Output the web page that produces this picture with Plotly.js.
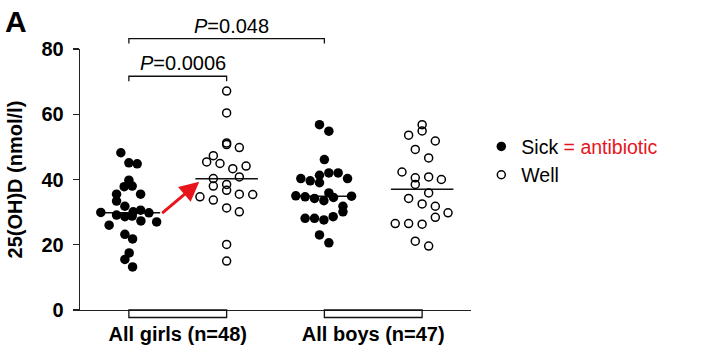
<!DOCTYPE html>
<html>
<head>
<meta charset="utf-8">
<script src="https://cdn.plot.ly/plotly-3.0.1.min.js"></script>
<style>html,body{margin:0;padding:0;background:#fff;}#chart{width:703px;height:360px;}</style>
</head>
<body>
<div id="chart"></div>
<script>
// Group positions (1..4): girls sick, girls well, boys sick, boys well
const groupPos = [1, 2, 3, 4];
const catLabels = ['All girls (n=48)', 'All boys (n=47)'];
const catPos = [1.5, 3.5];

// 25(OH)D values and horizontal scatter offsets
const girlsSick = [48.2, 45.1, 44.8, 39.8, 37.8, 38.0, 35.5, 35.5, 33.4, 31.8, 29.9, 29.1, 28.6, 28.8, 30.1, 30.6, 29.8, 26.0, 27.3, 27.0, 23.2, 21.8, 17.5, 15.5, 13.2];
const girlsSickDx = [-0.082, 0, 0.085, 0, -0.048, 0.034, 0.12, -0.126, -0.126, -0.041, -0.287, -0.126, -0.041, 0.034, 0.044, 0.12, 0.205, -0.202, 0.123, 0.284, -0.041, 0.038, 0.003, -0.041, 0.038];

const girlsWell = [67.1, 60.4, 51.2, 50.7, 49.8, 47.3, 45.4, 44.9, 44.1, 43.3, 40.8, 40.3, 38.0, 38.5, 36.7, 35.5, 35.4, 34.7, 33.7, 31.3, 30.1, 20.1, 15.0];
const girlsWellDx = [0, 0, 0, 0, 0.13, -0.136, -0.204, -0.068, 0.199, 0.063, 0.13, -0.136, -0.136, 0, 0, 0.13, 0.267, -0.273, -0.136, 0, 0.13, 0, 0];

const boysSick = [56.8, 54.8, 46.1, 40.3, 39.6, 41.3, 42.0, 42.0, 40.3, 39.0, 35.0, 34.7, 34.2, 33.5, 35.9, 34.5, 34.9, 31.8, 30.1, 28.1, 28.1, 27.6, 28.6, 23.0, 20.6];
const boysSickDx = [-0.05, 0.046, 0, -0.241, -0.145, -0.05, 0.046, 0.141, 0.237, -0.05, -0.292, -0.197, -0.101, -0.005, 0.046, 0.093, 0.278, 0.19, 0.19, -0.197, -0.101, -0.005, 0.09, -0.05, 0.046];

const boysWell = [56.8, 54.9, 53.6, 51.8, 49.2, 46.6, 42.3, 40.5, 40.8, 40.0, 38.5, 35.9, 34.2, 32.5, 31.8, 29.8, 28.4, 26.5, 26.5, 26.3, 21.1, 19.6];
const boysWellDx = [0, 0, -0.138, 0.135, -0.07, 0.067, -0.206, -0.07, 0.067, 0.197, -0.07, 0.067, -0.138, 0, 0.135, 0.265, 0.135, -0.275, -0.138, 0, -0.07, 0.067];

const medians = [29.8, 40.2, 34.9, 37.0];
const medianHalfWidth = 0.32;

// Comparisons: [from group, to group, label]
const comparisons = [
  [1, 3, '<i>P</i>=0.048'],
  [1, 2, '<i>P</i>=0.0006']
];

// Plot geometry (pixels)
const W = 703, H = 360, L = 80, R = 232.3, T = 48.7, B = 50;
const PW = W - L - R, PH = H - T - B;
const px2paperX = p => (p - L) / PW;
const px2paperY = p => (H - B - p) / PH;

const FONT = 'Liberation Sans, Arial, Helvetica, sans-serif';

const traces = [];
// median lines
medians.forEach((m, i) => {
  traces.push({
    x: [groupPos[i] - medianHalfWidth, groupPos[i] + medianHalfWidth],
    y: [m, m], mode: 'lines', line: {color: '#111', width: 1.5},
    showlegend: false, hoverinfo: 'skip'
  });
});

const sickX = girlsSickDx.map(d => groupPos[0] + d).concat(boysSickDx.map(d => groupPos[2] + d));
const sickY = girlsSick.concat(boysSick);
const wellX = girlsWellDx.map(d => groupPos[1] + d).concat(boysWellDx.map(d => groupPos[3] + d));
const wellY = girlsWell.concat(boysWell);

traces.push({
  x: sickX, y: sickY, mode: 'markers', type: 'scatter',
  name: 'Sick <span style="color:#e8141b">= antibiotic</span>',
  marker: {symbol: 'circle', size: 9.5, color: '#000', line: {width: 0}}
});
traces.push({
  x: wellX, y: wellY, mode: 'markers', type: 'scatter',
  name: 'Well',
  marker: {symbol: 'circle-open', size: 8, color: '#000', line: {width: 1.5, color: '#000'}}
});

const shapes = [];
const annotations = [];
// top comparison brackets
const bracketPx = [38.3, 76];
comparisons.forEach((c, i) => {
  const yTop = px2paperY(bracketPx[i]);
  const yTick = px2paperY(bracketPx[i] + 5);
  shapes.push({
    type: 'path', xref: 'x', yref: 'paper',
    path: `M ${c[0]},${yTick} L ${c[0]},${yTop} L ${c[1]},${yTop} L ${c[1]},${yTick}`,
    line: {color: '#111', width: 1.3}
  });
  annotations.push({
    xref: 'x', yref: 'paper', x: (c[0] + c[1]) / 2 + 0.05, y: yTop, yanchor: 'bottom',
    text: c[2], showarrow: false, yshift: 0,
    font: {family: FONT, size: 20, color: '#000'}
  });
});
// bottom group brackets
[[1, 2], [3, 4]].forEach(g => {
  shapes.push({
    type: 'rect', xref: 'x', yref: 'paper', x0: g[0], x1: g[1],
    y0: px2paperY(317.5), y1: 0, line: {color: '#111', width: 1.3}, fillcolor: 'rgba(0,0,0,0)'
  });
});

// red arrow sick -> well girls
annotations.push({
  xref: 'x', yref: 'y', axref: 'x', ayref: 'y',
  x: 1.72, y: 39.3, ax: 1.325, ay: 29.3,
  showarrow: true, arrowhead: 2, arrowsize: 1.3, arrowwidth: 3, arrowcolor: '#e8141b', text: ''
});
// panel letter
annotations.push({
  xref: 'paper', yref: 'paper', x: px2paperX(3), y: px2paperY(21.5), xanchor: 'left', yanchor: 'middle',
  text: '<b>A</b>', showarrow: false, font: {family: FONT, size: 30, color: '#000'}
});
// y title
annotations.push({
  xref: 'paper', yref: 'paper', x: px2paperX(15), y: 0.5, xanchor: 'center', yanchor: 'middle',
  text: '<b>25(OH)D (nmol/l)</b>', textangle: -90, showarrow: false,
  font: {family: FONT, size: 20, color: '#000'}
});

const layout = {
  width: W, height: H,
  margin: {l: L, r: R, t: T, b: B, pad: 0},
  paper_bgcolor: '#fff', plot_bgcolor: '#fff',
  font: {family: FONT, color: '#000'},
  showlegend: true,
  legend: {
    x: px2paperX(481), y: px2paperY(127), xanchor: 'left', yanchor: 'top',
    font: {family: FONT, size: 19.5, color: '#000'},
    bgcolor: 'rgba(0,0,0,0)', borderwidth: 0, tracegroupgap: 0, itemsizing: 'trace'
  },
  xaxis: {
    range: [0.5, 4.5], showgrid: false, zeroline: false,
    showline: true, linecolor: '#222', linewidth: 1.3,
    tickmode: 'array', tickvals: catPos, ticktext: catLabels,
    ticks: 'outside', ticklen: 6, tickcolor: 'rgba(0,0,0,0)',
    tickfont: {family: FONT, size: 20, color: '#000', weight: 'bold'},
    fixedrange: true
  },
  yaxis: {
    range: [0, 80], showgrid: false, zeroline: false,
    showline: true, linecolor: '#222', linewidth: 1.3,
    tickmode: 'linear', tick0: 0, dtick: 20,
    ticks: 'outside', ticklen: 6, tickwidth: 1.3, tickcolor: '#222',
    ticklabelstandoff: 5,
    tickfont: {family: FONT, size: 20, color: '#000', weight: 'bold'},
    fixedrange: true
  },
  shapes: shapes,
  annotations: annotations
};

Plotly.newPlot('chart', traces, layout, {displayModeBar: false, staticPlot: true});
</script>
</body>
</html>
